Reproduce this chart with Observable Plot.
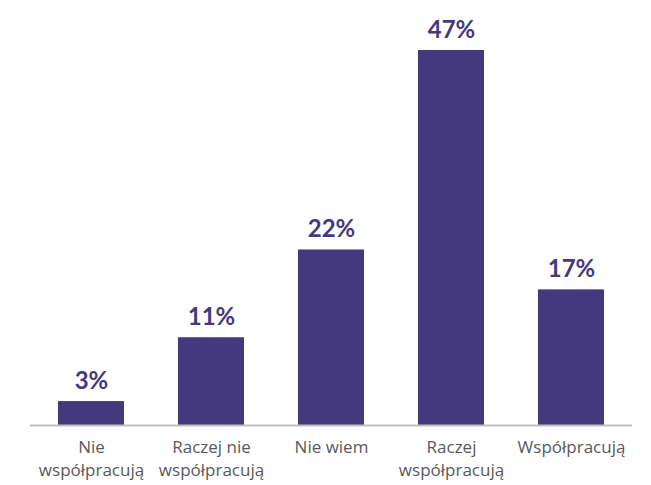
<!DOCTYPE html>
<html>
<head>
<meta charset="utf-8">
<script src="https://cdn.jsdelivr.net/npm/d3@7"></script>
<script src="https://cdn.jsdelivr.net/npm/@observablehq/plot@0.6"></script>
<style>
  html, body { margin: 0; padding: 0; background: #fff; }
</style>
</head>
<body>
<div id="chart"></div>
<script>
const categories = ["Nie\nwspółpracują", "Raczej nie\nwspółpracują", "Nie wiem", "Raczej\nwspółpracują", "Współpracują"];
const values = [3, 11, 22, 47, 17];
const valueLabels = ["3%", "11%", "22%", "47%", "17%"];

const data = categories.map((c, i) => ({category: c, value: values[i], label: valueLabels[i]}));
const barColor = "#44387f";

const chart = Plot.plot({
  width: 651,
  height: 485,
  marginLeft: 30,
  marginRight: 19,
  marginTop: 50,
  marginBottom: 60,
  style: {fontFamily: "Lato, 'Open Sans', sans-serif", background: "#fff"},
  x: {domain: categories, paddingInner: 0.45, paddingOuter: 0.225, axis: null},
  y: {domain: [0, 47], axis: null},
  marks: [
    Plot.barY(data, {x: "category", y: "value", fill: barColor}),
    Plot.ruleY([0], {stroke: "#c0c0c0", strokeWidth: 2}),
    Plot.text(data, {x: "category", y: "value", text: "label", lineAnchor: "bottom", dy: -13,
      fill: barColor, fontWeight: "bold", fontSize: 24}),
    Plot.text(data, {x: "category", y: () => 0, text: "category", lineAnchor: "top", dy: 11,
      fill: "#595959", fontSize: 17, lineHeight: 1.35, fontFamily: "'Open Sans', sans-serif"})
  ]
});
document.getElementById("chart").appendChild(chart);
</script>
</body>
</html>
